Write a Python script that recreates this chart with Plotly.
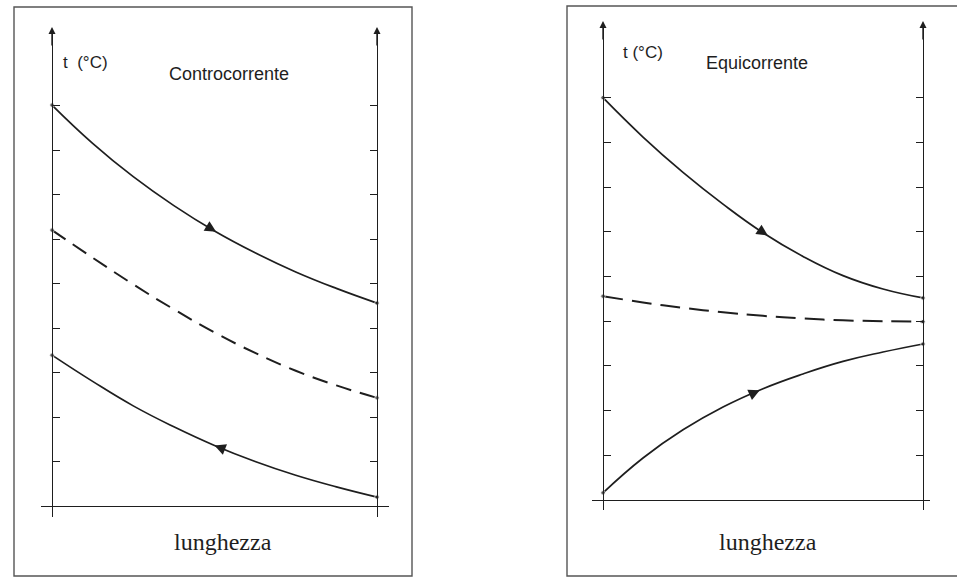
import numpy as np
import plotly.graph_objects as go

# ---------------- data ----------------
length_pts = [0, 0.125, 0.25, 0.375, 0.5, 0.625, 0.75, 0.875, 1.0]

# Controcorrente (counter-current)
cc_hot = [9.01, 8.15, 7.40, 6.75, 6.18, 5.69, 5.26, 4.89, 4.56]
cc_mid = [6.2, 5.58, 4.98, 4.42, 3.9, 3.44, 3.04, 2.71, 2.43]
cc_cold = [3.39, 2.8, 2.25, 1.78, 1.36, 1.0, 0.69, 0.43, 0.2]

# Equicorrente (co-current)
eq_hot = [9.0, 8.12, 7.33, 6.62, 5.98, 5.45, 5.02, 4.72, 4.52]
eq_mid = [4.56, 4.42, 4.30, 4.20, 4.12, 4.06, 4.02, 4.0, 3.99]
eq_cold = [0.16, 0.94, 1.57, 2.08, 2.49, 2.82, 3.1, 3.31, 3.49]

tick_vals = [1, 2, 3, 4, 5, 6, 7, 8, 9]
y_label = "t (°C)"
x_label = "lunghezza"
titles = ["Controcorrente", "Equicorrente"]

# ---------------- layout geometry (pixels) ----------------
W, H = 957, 577
INK = "#1e1e1e"

def px(x):
    return x / W

def py(y):
    return 1 - y / H

# panel specs: left axis px, right axis px, x-line extent, y0 px, px per unit, top px, bottom px
panels = [
    dict(xl=52, xr=377, x0=41, x1=389, y0=506, sc=44.5, top=31, bot=517, tip=27),
    dict(xl=603, xr=923, x0=592, x1=930, y0=500, sc=44.7, top=25, bot=510, tip=21),
]

fig = go.Figure()

series = [(cc_hot, cc_mid, cc_cold), (eq_hot, eq_mid, eq_cold)]
dashes = ["16px,9px", "20px,9px"]

for i, (hot, mid, cold) in enumerate(series):
    xa = "x" if i == 0 else "x2"
    ya = "y" if i == 0 else "y2"
    ends = [4.5] + [0] * (len(length_pts) - 2) + [4.5]
    for vals, dash, w in [(hot, "solid", 1.7), (mid, dashes[i], 2.0), (cold, "solid", 1.7)]:
        fig.add_trace(go.Scatter(
            x=length_pts, y=vals, xaxis=xa, yaxis=ya,
            mode="lines+markers",
            line=dict(color=INK, width=w, dash=dash, shape="spline", smoothing=1.3),
            marker=dict(size=ends, color=INK),
            showlegend=False, hoverinfo="skip", cliponaxis=False,
        ))

# axes
layout = dict(
    width=W, height=H,
    margin=dict(l=0, r=0, t=0, b=0),
    paper_bgcolor="white", plot_bgcolor="rgba(0,0,0,0)",
    showlegend=False,
)
for i, p in enumerate(panels):
    sfx = "" if i == 0 else str(i + 1)
    span = p["xr"] - p["xl"]
    xrange = [-(p["xl"] - p["x0"]) / span, 1 + (p["x1"] - p["xr"]) / span]
    yrange = [-(p["bot"] - p["y0"]) / p["sc"], (p["y0"] - p["top"]) / p["sc"]]
    layout["xaxis" + sfx] = dict(
        domain=[px(p["x0"]), px(p["x1"])], range=xrange,
        showgrid=False, zeroline=False, showline=False, showticklabels=False, ticks="",
        anchor="y" + sfx, fixedrange=True,
    )
    common = dict(
        domain=[py(p["bot"]), py(p["top"])], range=yrange,
        showgrid=False, showticklabels=False,
        showline=True, linecolor=INK, linewidth=1.4,
        ticks="inside", ticklen=7, tickwidth=1, tickcolor=INK,
        tickmode="array", tickvals=tick_vals,
        anchor="free", fixedrange=True,
    )
    layout["yaxis" + sfx] = dict(common, position=px(p["xl"]), side="left",
                                 zeroline=True, zerolinecolor=INK, zerolinewidth=1.4)
    sfx2 = str(i + 3)
    layout["yaxis" + sfx2] = dict(common, position=px(p["xr"]), side="right",
                                  overlaying="y" + sfx, zeroline=False)
fig.update_layout(**layout)

# overlay traces so the right-hand axes exist
for i in range(2):
    fig.add_trace(go.Scatter(x=[None], y=[None], xaxis="x" if i == 0 else "x2",
                             yaxis="y" + str(i + 3), showlegend=False, hoverinfo="skip"))

annotations = []
# axis arrowheads
for i, p in enumerate(panels):
    xa = "x" if i == 0 else "x2"
    ya = "y" if i == 0 else "y2"
    ytip = (p["y0"] - p["tip"]) / p["sc"]
    for xv in (0, 1):
        annotations.append(dict(
            x=xv, y=ytip, ax=xv, ay=ytip - 0.45, xref=xa, yref=ya, axref=xa, ayref=ya,
            showarrow=True, arrowhead=2, arrowsize=1.0, arrowwidth=1.4, arrowcolor=INK,
            text="", standoff=0,
        ))

# flow direction arrows on curves: (panel, values, tip x, direction)
flow = [
    (0, cc_hot, 0.505, +1),
    (0, cc_cold, 0.5, -1),
    (1, eq_hot, 0.515, +1),
    (1, eq_cold, 0.49, +1),
]
for i, vals, xt, d in flow:
    xa = "x" if i == 0 else "x2"
    ya = "y" if i == 0 else "y2"
    xs = xt - d * 0.03
    annotations.append(dict(
        x=xt, y=float(np.interp(xt, length_pts, vals)),
        ax=xs, ay=float(np.interp(xs, length_pts, vals)),
        xref=xa, yref=ya, axref=xa, ayref=ya,
        showarrow=True, arrowhead=2, arrowsize=1.4, arrowwidth=1.6, arrowcolor=INK,
        text="", standoff=0,
    ))

# texts
sans = "Liberation Sans, Arial, sans-serif"
serif = "Liberation Serif, Times New Roman, serif"
annotations += [
    dict(x=px(61), y=py(63), xref="paper", yref="paper", text="t  (°C)", showarrow=False,
         xanchor="left", yanchor="middle", font=dict(family=sans, size=17, color=INK)),
    dict(x=px(229), y=py(74), xref="paper", yref="paper", text=titles[0], showarrow=False,
         xanchor="center", yanchor="middle", font=dict(family=sans, size=18, color=INK)),
    dict(x=px(621), y=py(52), xref="paper", yref="paper", text=y_label, showarrow=False,
         xanchor="left", yanchor="middle", font=dict(family=sans, size=17, color=INK)),
    dict(x=px(757), y=py(63), xref="paper", yref="paper", text=titles[1], showarrow=False,
         xanchor="center", yanchor="middle", font=dict(family=sans, size=18, color=INK)),
    dict(x=px(223), y=py(542), xref="paper", yref="paper", text=x_label, showarrow=False,
         xanchor="center", yanchor="middle", font=dict(family=serif, size=24, color=INK)),
    dict(x=px(768), y=py(542), xref="paper", yref="paper", text=x_label, showarrow=False,
         xanchor="center", yanchor="middle", font=dict(family=serif, size=24, color=INK)),
]
fig.update_layout(annotations=annotations)

# panel frames
fig.update_layout(shapes=[
    dict(type="rect", xref="paper", yref="paper", x0=px(14), x1=px(412), y0=py(576), y1=py(7),
         line=dict(color="#555555", width=1.4)),
    dict(type="rect", xref="paper", yref="paper", x0=px(567), x1=px(960), y0=py(576), y1=py(6),
         line=dict(color="#555555", width=1.4)),
])

fig.write_html("out.html", config={"displayModeBar": False},
               post_script="document.body.style.margin='0px';")
